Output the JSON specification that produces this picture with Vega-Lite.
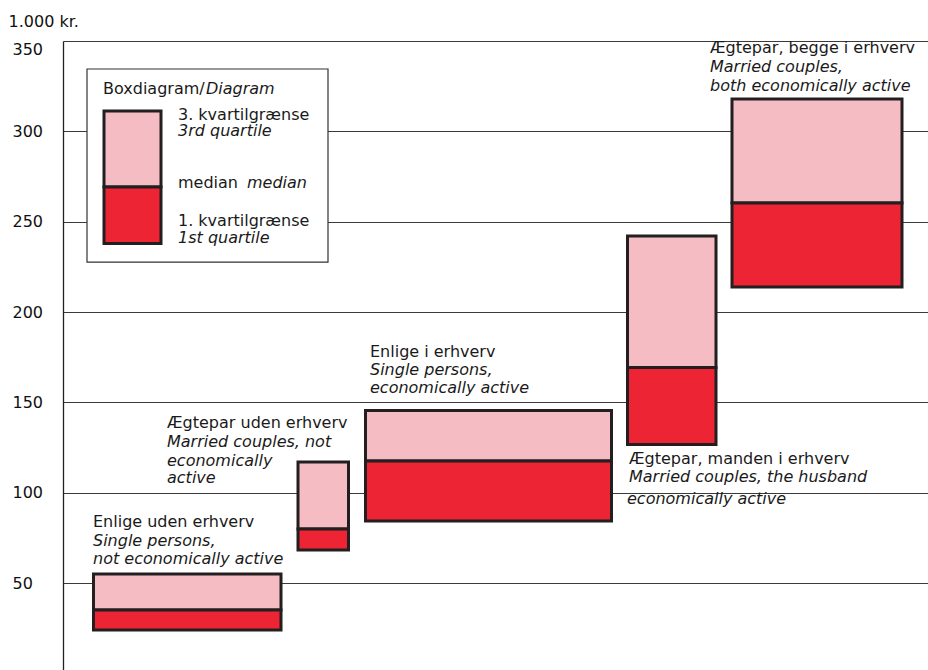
{
  "$schema": "https://vega.github.io/schema/vega-lite/v6.json",
  "width": 865,
  "height": 629,
  "autosize": {"type": "none"},
  "padding": {"left": 63, "top": 41, "right": 0, "bottom": 0},
  "background": "white",
  "config": {
    "view": {"stroke": null},
    "font": "DejaVu Sans",
    "axisY": {
      "grid": true, "gridColor": "#3a3a3a", "gridWidth": 1, "gridOpacity": 1,
      "domain": true, "domainColor": "#222222", "domainWidth": 1.3,
      "ticks": false, "tickSize": 0,
      "labelAlign": "left", "labelPadding": 51,
      "labelFlush": false,
      "labelFontSize": 16, "labelColor": "#111111", "labelFont": "DejaVu Sans",
      "titleAngle": 0, "titleAlign": "left", "titleBaseline": "alphabetic",
      "titleX": -55, "titleY": -15, "titleFontSize": 16, "titleFontWeight": "normal",
      "titleColor": "#111111", "titleFont": "DejaVu Sans"
    }
  },
  "datasets": {
    "frame": [{"x1": 24, "x2": 265, "y1": 227.7, "y2": 334.5}],
    "boxes": [
      {"group": "Enlige uden erhverv", "x1": 30.5, "x2": 218, "q1": 24.1, "med": 35.2, "q3": 55.1},
      {"group": "Ægtepar uden erhverv", "x1": 235, "x2": 285.5, "q1": 68.4, "med": 80.0, "q3": 117.1},
      {"group": "Enlige i erhverv", "x1": 302.5, "x2": 548.5, "q1": 84.4, "med": 117.6, "q3": 145.6},
      {"group": "Ægtepar, manden i erhverv", "x1": 564.5, "x2": 653, "q1": 126.8, "med": 169.4, "q3": 242.1},
      {"group": "Ægtepar, begge i erhverv", "x1": 669, "x2": 839, "q1": 213.9, "med": 260.4, "q3": 317.9},
      {"group": "legend", "x1": 41, "x2": 98, "q1": 238.0, "med": 269.2, "q3": 311.3}
    ],
    "labels": [
      {"x": 30, "y": 81.1, "text": "Enlige uden erhverv", "style": "normal"},
      {"x": 30, "y": 70.6, "text": "Single persons,", "style": "italic"},
      {"x": 30, "y": 60.7, "text": "not economically active", "style": "italic"},
      {"x": 104, "y": 135.9, "text": "Ægtepar uden erhverv", "style": "normal"},
      {"x": 104, "y": 125.4, "text": "Married couples, not", "style": "italic"},
      {"x": 104, "y": 114.9, "text": "economically", "style": "italic"},
      {"x": 104, "y": 105.5, "text": "active", "style": "italic"},
      {"x": 307, "y": 175.2, "text": "Enlige i erhverv", "style": "normal"},
      {"x": 307, "y": 165.2, "text": "Single persons,", "style": "italic"},
      {"x": 307, "y": 155.1, "text": "economically active", "style": "italic"},
      {"x": 566, "y": 116.0, "text": "Ægtepar, manden i erhverv", "style": "normal"},
      {"x": 566, "y": 106.0, "text": "Married couples, the husband", "style": "italic"},
      {"x": 564, "y": 93.8, "text": "economically active", "style": "italic"},
      {"x": 647, "y": 343.4, "text": "Ægtepar, begge i erhverv", "style": "normal"},
      {"x": 647, "y": 332.8, "text": "Married couples,", "style": "italic"},
      {"x": 647, "y": 322.3, "text": "both economically active", "style": "italic"},
      {"x": 40, "y": 320.7, "text": "Boxdiagram/", "style": "normal"},
      {"x": 143, "y": 320.7, "text": "Diagram", "style": "italic"},
      {"x": 115, "y": 306.3, "text": "3. kvartilgrænse", "style": "normal"},
      {"x": 115, "y": 297.4, "text": "3rd quartile", "style": "italic"},
      {"x": 115, "y": 268.7, "text": "median", "style": "normal"},
      {"x": 184, "y": 268.7, "text": "median", "style": "italic"},
      {"x": 115, "y": 247.6, "text": "1. kvartilgrænse", "style": "normal"},
      {"x": 115, "y": 238.2, "text": "1st quartile", "style": "italic"}
    ]
  },
  "layer": [
    {
      "data": {"name": "frame"},
      "mark": {"type": "rect", "fill": "white", "stroke": "#333333", "strokeWidth": 1.2},
      "encoding": {
        "x": {"field": "x1", "type": "quantitative", "scale": {"domain": [0, 865], "nice": false, "zero": false}, "axis": null},
        "x2": {"field": "x2"},
        "y": {"field": "y1", "type": "quantitative", "scale": {"domain": [2, 350], "nice": false, "zero": false}, "axis": {"title": "1.000 kr.", "values": [50, 100, 150, 200, 250, 300, 350], "labelBaseline": {"condition": {"test": "datum.value === 350", "value": "top"}, "value": "middle"}}},
        "y2": {"field": "y2"}
      }
    },
    {
      "data": {"name": "boxes"},
      "mark": {"type": "rect", "fill": "#f5bcc3", "stroke": "#231f20", "strokeWidth": 3},
      "encoding": {
        "x": {"field": "x1", "type": "quantitative", "scale": {"domain": [0, 865], "nice": false, "zero": false}, "axis": null},
        "x2": {"field": "x2"},
        "y": {"field": "med", "type": "quantitative", "scale": {"domain": [2, 350], "nice": false, "zero": false}, "axis": {"title": "1.000 kr.", "values": [50, 100, 150, 200, 250, 300, 350], "labelBaseline": {"condition": {"test": "datum.value === 350", "value": "top"}, "value": "middle"}}},
        "y2": {"field": "q3"}
      }
    },
    {
      "data": {"name": "boxes"},
      "mark": {"type": "rect", "fill": "#ec2433", "stroke": "#231f20", "strokeWidth": 3},
      "encoding": {
        "x": {"field": "x1", "type": "quantitative", "scale": {"domain": [0, 865], "nice": false, "zero": false}, "axis": null},
        "x2": {"field": "x2"},
        "y": {"field": "q1", "type": "quantitative", "scale": {"domain": [2, 350], "nice": false, "zero": false}, "axis": {"title": "1.000 kr.", "values": [50, 100, 150, 200, 250, 300, 350], "labelBaseline": {"condition": {"test": "datum.value === 350", "value": "top"}, "value": "middle"}}},
        "y2": {"field": "med"}
      }
    },
    {
      "data": {"name": "labels"},
      "transform": [{"filter": "datum.style === 'normal'"}],
      "mark": {"type": "text", "align": "left", "baseline": "alphabetic", "fontSize": 16, "font": "DejaVu Sans", "fill": "#1a1a1a"},
      "encoding": {
        "x": {"field": "x", "type": "quantitative", "scale": {"domain": [0, 865], "nice": false, "zero": false}, "axis": null},
        "y": {"field": "y", "type": "quantitative", "scale": {"domain": [2, 350], "nice": false, "zero": false}, "axis": {"title": "1.000 kr.", "values": [50, 100, 150, 200, 250, 300, 350], "labelBaseline": {"condition": {"test": "datum.value === 350", "value": "top"}, "value": "middle"}}},
        "text": {"field": "text"}
      }
    },
    {
      "data": {"name": "labels"},
      "transform": [{"filter": "datum.style === 'italic'"}],
      "mark": {"type": "text", "align": "left", "baseline": "alphabetic", "fontSize": 16, "font": "DejaVu Sans", "fontStyle": "italic", "fill": "#1a1a1a"},
      "encoding": {
        "x": {"field": "x", "type": "quantitative", "scale": {"domain": [0, 865], "nice": false, "zero": false}, "axis": null},
        "y": {"field": "y", "type": "quantitative", "scale": {"domain": [2, 350], "nice": false, "zero": false}, "axis": {"title": "1.000 kr.", "values": [50, 100, 150, 200, 250, 300, 350], "labelBaseline": {"condition": {"test": "datum.value === 350", "value": "top"}, "value": "middle"}}},
        "text": {"field": "text"}
      }
    }
  ]
}
